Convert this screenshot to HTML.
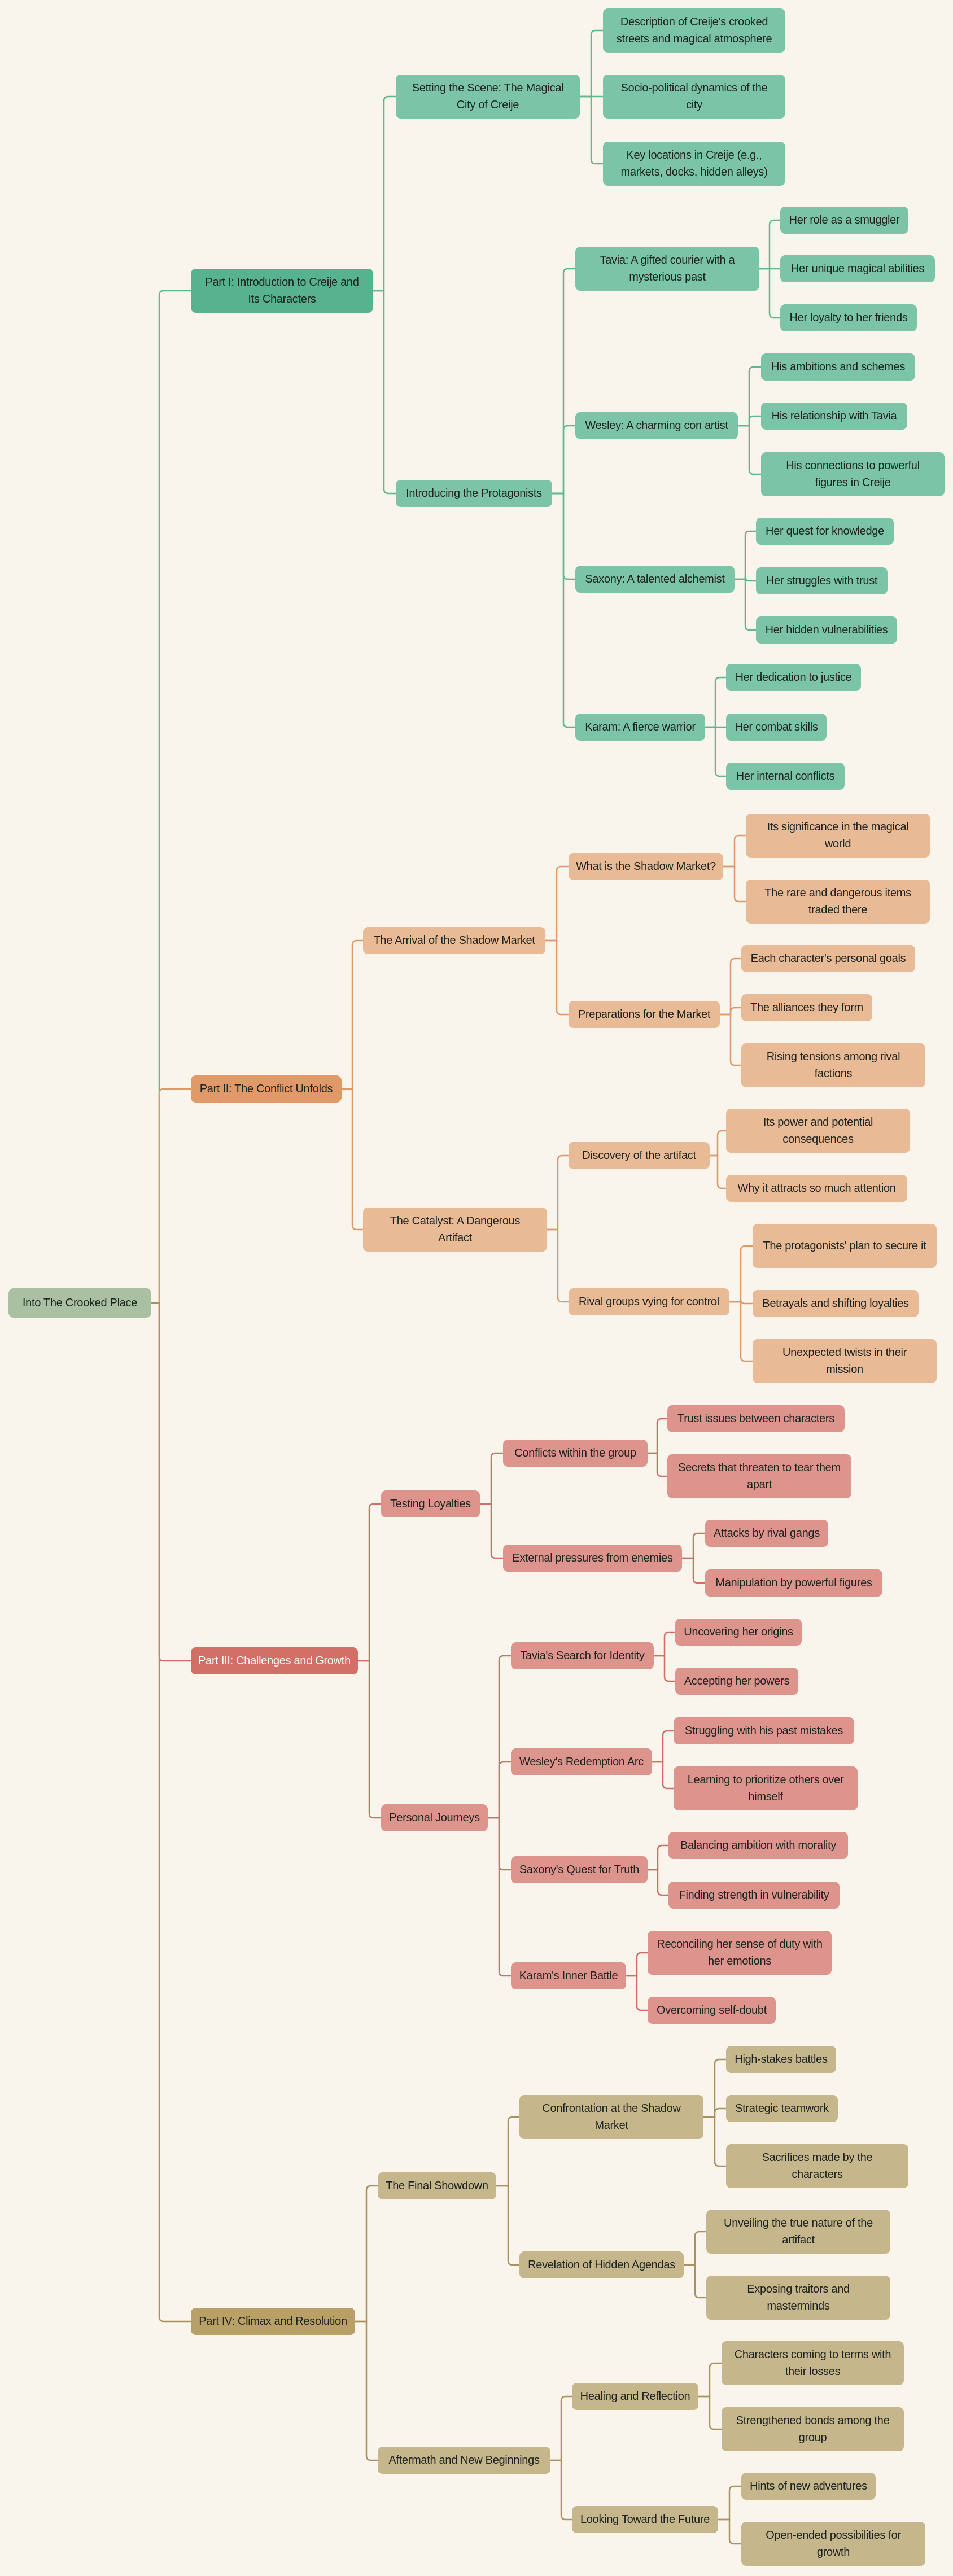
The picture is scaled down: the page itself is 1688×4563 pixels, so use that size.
<!DOCTYPE html>
<html><head><meta charset="utf-8"><style>
html,body{margin:0;padding:0;background:#f9f5ec;}
body{width:1688px;height:4563px;position:relative;overflow:hidden;font-family:"Liberation Sans",sans-serif;}
.n{position:absolute;box-sizing:border-box;border-radius:9px;display:flex;align-items:center;justify-content:center;text-align:center;font-size:20px;letter-spacing:-0.3px;line-height:30px;color:#1d2320;padding:0 18px;}
.a{height:48px;white-space:nowrap;padding:0 2px}.b{height:78px}
.g1{background:#57b28f}.g2{background:#7cc4a7}
.o1{background:#e09a68}.o2{background:#e8ba95}
.r1{background:#d26f66;color:#fff}.r2{background:#dc948c}
.t1{background:#b8a066}.t2{background:#c6b68b}
.root{background:#a9c0a2;white-space:nowrap;padding:0}
svg{position:absolute;left:0;top:0}
</style></head><body>
<svg id="e" width="1688" height="4563"></svg>

<div class="n root" style="left:15px;top:2282px;width:253px;height:52px">Into The Crooked Place</div>

<div class="n g1 b" style="left:338px;top:476px;width:323px">Part I: Introduction to Creije and Its Characters</div>
<div class="n g2 b" style="left:701px;top:132px;width:326px;padding:0 12px">Setting the Scene: The Magical City of Creije</div>
<div class="n g2 b" style="left:1068px;top:15px;width:323px;padding:0 10px">Description of Creije's crooked streets and magical atmosphere</div>
<div class="n g2 b" style="left:1068px;top:132px;width:323px;padding:0 28px">Socio-political dynamics of the city</div>
<div class="n g2 b" style="left:1068px;top:251px;width:323px;padding:0 14px">Key locations in Creije (e.g., markets, docks, hidden alleys)</div>
<div class="n g2 a" style="left:701px;top:850px;width:277px">Introducing the Protagonists</div>
<div class="n g2 b" style="left:1019px;top:437px;width:326px;padding:0 30px">Tavia: A gifted courier with a mysterious past</div>
<div class="n g2 a" style="left:1382px;top:366px;width:227px">Her role as a smuggler</div>
<div class="n g2 a" style="left:1382px;top:452px;width:274px">Her unique magical abilities</div>
<div class="n g2 a" style="left:1382px;top:539px;width:242px">Her loyalty to her friends</div>
<div class="n g2 a" style="left:1019px;top:730px;width:288px">Wesley: A charming con artist</div>
<div class="n g2 a" style="left:1348px;top:626px;width:273px">His ambitions and schemes</div>
<div class="n g2 a" style="left:1348px;top:713px;width:259px">His relationship with Tavia</div>
<div class="n g2 b" style="left:1348px;top:801px;width:325px;padding:0 30px">His connections to powerful figures in Creije</div>
<div class="n g2 a" style="left:1019px;top:1002px;width:282px">Saxony: A talented alchemist</div>
<div class="n g2 a" style="left:1339px;top:917px;width:244px">Her quest for knowledge</div>
<div class="n g2 a" style="left:1339px;top:1005px;width:233px">Her struggles with trust</div>
<div class="n g2 a" style="left:1339px;top:1092px;width:250px">Her hidden vulnerabilities</div>
<div class="n g2 a" style="left:1019px;top:1264px;width:230px">Karam: A fierce warrior</div>
<div class="n g2 a" style="left:1286px;top:1176px;width:239px">Her dedication to justice</div>
<div class="n g2 a" style="left:1286px;top:1264px;width:178px">Her combat skills</div>
<div class="n g2 a" style="left:1286px;top:1351px;width:210px">Her internal conflicts</div>

<div class="n o1 a" style="left:338px;top:1905px;width:267px">Part II: The Conflict Unfolds</div>
<div class="n o2 a" style="left:643px;top:1642px;width:323px">The Arrival of the Shadow Market</div>
<div class="n o2 a" style="left:1007px;top:1511px;width:274px">What is the Shadow Market?</div>
<div class="n o2 b" style="left:1321px;top:1441px;width:326px;padding:0 30px">Its significance in the magical world</div>
<div class="n o2 b" style="left:1321px;top:1558px;width:326px;padding:0 30px">The rare and dangerous items traded there</div>
<div class="n o2 a" style="left:1007px;top:1773px;width:268px">Preparations for the Market</div>
<div class="n o2 a" style="left:1313px;top:1674px;width:308px">Each character's personal goals</div>
<div class="n o2 a" style="left:1313px;top:1761px;width:232px">The alliances they form</div>
<div class="n o2 b" style="left:1313px;top:1848px;width:326px;padding:0 30px">Rising tensions among rival factions</div>
<div class="n o2 b" style="left:643px;top:2139px;width:326px;padding:0 30px">The Catalyst: A Dangerous Artifact</div>
<div class="n o2 a" style="left:1007px;top:2023px;width:250px">Discovery of the artifact</div>
<div class="n o2 b" style="left:1286px;top:1964px;width:326px;padding:0 30px">Its power and potential consequences</div>
<div class="n o2 a" style="left:1286px;top:2081px;width:321px">Why it attracts so much attention</div>
<div class="n o2 a" style="left:1007px;top:2282px;width:285px">Rival groups vying for control</div>
<div class="n o2 b" style="left:1333px;top:2168px;width:326px">The protagonists' plan to secure it</div>
<div class="n o2 a" style="left:1333px;top:2285px;width:294px">Betrayals and shifting loyalties</div>
<div class="n o2 b" style="left:1333px;top:2372px;width:326px">Unexpected twists in their mission</div>

<div class="n r1 a" style="left:338px;top:2918px;width:296px">Part III: Challenges and Growth</div>
<div class="n r2 a" style="left:675px;top:2640px;width:175px">Testing Loyalties</div>
<div class="n r2 a" style="left:891px;top:2550px;width:256px">Conflicts within the group</div>
<div class="n r2 a" style="left:1182px;top:2489px;width:314px">Trust issues between characters</div>
<div class="n r2 b" style="left:1182px;top:2576px;width:326px">Secrets that threaten to tear them apart</div>
<div class="n r2 a" style="left:891px;top:2736px;width:317px">External pressures from enemies</div>
<div class="n r2 a" style="left:1249px;top:2692px;width:218px">Attacks by rival gangs</div>
<div class="n r2 a" style="left:1249px;top:2780px;width:314px">Manipulation by powerful figures</div>
<div class="n r2 a" style="left:675px;top:3196px;width:189px">Personal Journeys</div>
<div class="n r2 a" style="left:905px;top:2909px;width:253px">Tavia's Search for Identity</div>
<div class="n r2 a" style="left:1196px;top:2867px;width:224px">Uncovering her origins</div>
<div class="n r2 a" style="left:1196px;top:2954px;width:218px">Accepting her powers</div>
<div class="n r2 a" style="left:905px;top:3097px;width:250px">Wesley's Redemption Arc</div>
<div class="n r2 a" style="left:1193px;top:3042px;width:320px">Struggling with his past mistakes</div>
<div class="n r2 b" style="left:1193px;top:3129px;width:326px">Learning to prioritize others over himself</div>
<div class="n r2 a" style="left:905px;top:3288px;width:242px">Saxony's Quest for Truth</div>
<div class="n r2 a" style="left:1184px;top:3245px;width:318px">Balancing ambition with morality</div>
<div class="n r2 a" style="left:1184px;top:3333px;width:303px">Finding strength in vulnerability</div>
<div class="n r2 a" style="left:905px;top:3476px;width:204px">Karam's Inner Battle</div>
<div class="n r2 b" style="left:1147px;top:3420px;width:326px;padding:0 12px">Reconciling her sense of duty with her emotions</div>
<div class="n r2 a" style="left:1147px;top:3537px;width:227px">Overcoming self-doubt</div>

<div class="n t1 a" style="left:338px;top:4088px;width:291px">Part IV: Climax and Resolution</div>
<div class="n t2 a" style="left:669px;top:3848px;width:210px">The Final Showdown</div>
<div class="n t2 b" style="left:920px;top:3711px;width:326px;padding:0 30px">Confrontation at the Shadow Market</div>
<div class="n t2 a" style="left:1286px;top:3624px;width:195px">High-stakes battles</div>
<div class="n t2 a" style="left:1286px;top:3711px;width:198px">Strategic teamwork</div>
<div class="n t2 b" style="left:1286px;top:3798px;width:323px;padding:0 24px">Sacrifices made by the characters</div>
<div class="n t2 a" style="left:920px;top:3988px;width:291px">Revelation of Hidden Agendas</div>
<div class="n t2 b" style="left:1251px;top:3914px;width:326px;padding:0 26px">Unveiling the true nature of the artifact</div>
<div class="n t2 b" style="left:1251px;top:4031px;width:326px;padding:0 40px">Exposing traitors and masterminds</div>
<div class="n t2 a" style="left:669px;top:4334px;width:306px">Aftermath and New Beginnings</div>
<div class="n t2 a" style="left:1013px;top:4221px;width:224px">Healing and Reflection</div>
<div class="n t2 b" style="left:1278px;top:4147px;width:323px;padding:0 20px">Characters coming to terms with their losses</div>
<div class="n t2 b" style="left:1278px;top:4264px;width:323px;padding:0 24px">Strengthened bonds among the group</div>
<div class="n t2 a" style="left:1013px;top:4439px;width:259px">Looking Toward the Future</div>
<div class="n t2 a" style="left:1313px;top:4380px;width:238px">Hints of new adventures</div>
<div class="n t2 b" style="left:1313px;top:4467px;width:326px;padding:0 30px">Open-ended possibilities for growth</div>

<script>
var G='#5fb690',O='#dc9a6a',R='#cf6f68',T='#a99260';
var E=[
[268,2308,282,338,[515],G],[268,2308,282,338,[1929],O],[268,2308,282,338,[2942],R],[268,2308,282,338,[4112],T],
[661,515,680,701,[171,874],G],[1027,171,1047,1068,[54,171,290],G],[978,874,998,1019,[476,754,1026,1288],G],
[1345,476,1363,1382,[390,476,563],G],[1307,754,1327,1348,[650,737,840],G],[1301,1026,1320,1339,[941,1029,1116],G],[1249,1288,1267,1286,[1200,1288,1375],G],
[605,1929,624,643,[1666,2178],O],[966,1666,986,1007,[1535,1797],O],[1281,1535,1301,1321,[1480,1597],O],[1275,1797,1294,1313,[1698,1785,1887],O],
[969,2178,988,1007,[2047,2306],O],[1257,2047,1271,1286,[2003,2105],O],[1292,2306,1312,1333,[2207,2309,2411],O],
[634,2942,654,675,[2664,3220],R],[850,2664,870,891,[2574,2760],R],[1147,2574,1164,1182,[2513,2615],R],[1208,2760,1228,1249,[2716,2804],R],
[864,3220,884,905,[2933,3121,3312,3500],R],[1158,2933,1177,1196,[2891,2978],R],[1155,3121,1174,1193,[3066,3168],R],[1147,3312,1165,1184,[3269,3357],R],[1109,3500,1128,1147,[3459,3561],R],
[629,4112,649,669,[3872,4358],T],[879,3872,900,920,[3750,4012],T],[1246,3750,1266,1286,[3648,3735,3837],T],[1211,4012,1231,1251,[3953,4070],T],
[975,4358,994,1013,[4245,4463],T],[1237,4245,1257,1278,[4186,4303],T],[1272,4463,1292,1313,[4404,4506],T]];
var s='',r=8;
E.forEach(function(e){var xr=e[0],py=e[1],sx=e[2],xl=e[3];e[4].forEach(function(cy){var d;
if(Math.abs(cy-py)<3)d='M'+xr+' '+py+' H'+xl;
else if(cy<py)d='M'+xr+' '+py+' H'+sx+' V'+(cy+r)+' Q'+sx+' '+cy+' '+(sx+r)+' '+cy+' H'+xl;
else d='M'+xr+' '+py+' H'+sx+' V'+(cy-r)+' Q'+sx+' '+cy+' '+(sx+r)+' '+cy+' H'+xl;
s+='<path d="'+d+'" fill="none" stroke="'+e[5]+'" stroke-width="2.5"/>';});});
document.getElementById('e').innerHTML=s;
</script>
</body></html>
